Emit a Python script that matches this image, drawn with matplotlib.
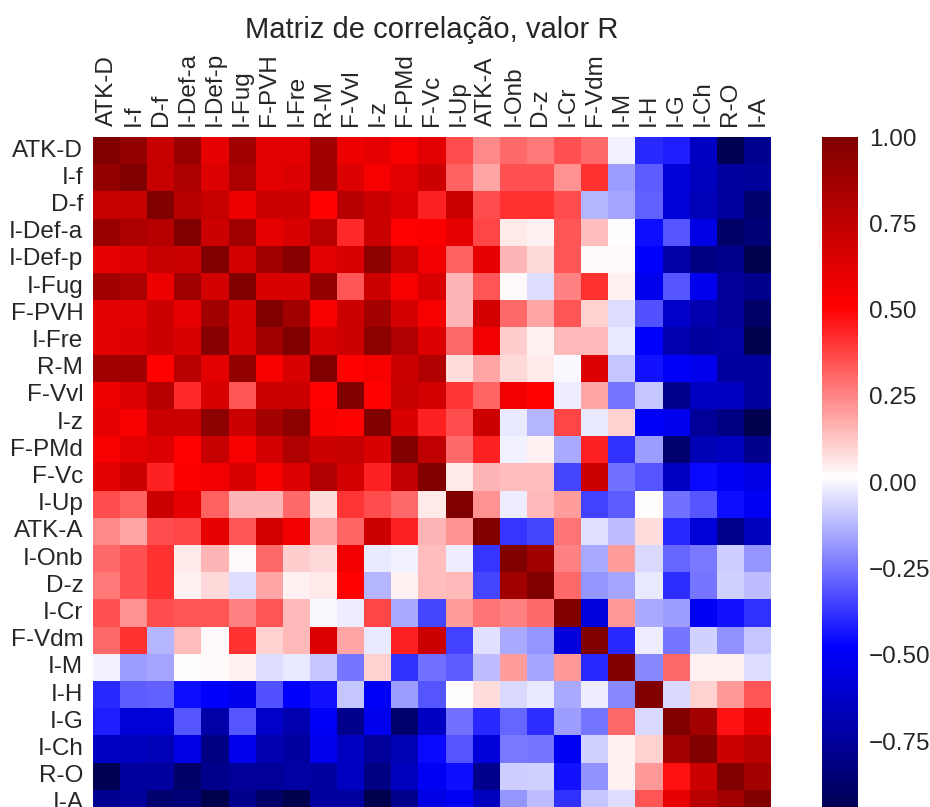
import matplotlib
matplotlib.use("Agg")
import matplotlib.pyplot as plt
import numpy as np
import pandas as pd
import seaborn as sns

plt.rcParams['font.family'] = ['Liberation Sans', 'DejaVu Sans']
plt.rcParams['text.color'] = '#262626'
plt.rcParams['xtick.color'] = '#262626'
plt.rcParams['ytick.color'] = '#262626'

variaveis = ['ATK-D', 'I-f', 'D-f', 'I-Def-a', 'I-Def-p', 'I-Fug', 'F-PVH', 'I-Fre',
             'R-M', 'F-Vvl', 'I-z', 'F-PMd', 'F-Vc', 'I-Up', 'ATK-A', 'I-Onb', 'D-z',
             'I-Cr', 'F-Vdm', 'I-M', 'I-H', 'I-G', 'I-Ch', 'R-O', 'I-A']

# triangulo superior (da diagonal ate o fim), uma linha por variavel
r_atk_d = [1.0, 0.93, 0.73, 0.90, 0.60, 0.87, 0.62, 0.62, 0.87, 0.58, 0.60, 0.54, 0.62,
           0.36, 0.245, 0.30, 0.27, 0.35, 0.30, -0.01, -0.40, -0.42, -0.64, -0.95, -0.78]
r_i_f = [1.0, 0.73, 0.83, 0.64, 0.83, 0.62, 0.64, 0.87, 0.64, 0.54, 0.62, 0.70,
         0.32, 0.19, 0.35, 0.35, 0.23, 0.41, -0.17, -0.30, -0.58, -0.65, -0.74, -0.75]
r_d_f = [1.0, 0.79, 0.73, 0.58, 0.70, 0.70, 0.50, 0.79, 0.71, 0.64, 0.44,
         0.71, 0.36, 0.41, 0.41, 0.36, -0.13, -0.16, -0.29, -0.58, -0.67, -0.74, -0.87]
r_i_def_a = [1.0, 0.70, 0.87, 0.60, 0.66, 0.78, 0.43, 0.71, 0.50, 0.52,
             0.60, 0.37, 0.06, 0.04, 0.34, 0.14, 0.02, -0.45, -0.31, -0.55, -0.90, -0.85]
r_i_def_p = [1.0, 0.68, 0.87, 0.97, 0.62, 0.66, 0.95, 0.73, 0.56,
             0.32, 0.60, 0.16, 0.09, 0.34, 0.03, 0.03, -0.48, -0.71, -0.82, -0.79, -0.97]
r_i_fug = [1.0, 0.66, 0.66, 0.93, 0.34, 0.70, 0.54, 0.66,
           0.16, 0.34, 0.03, -0.05, 0.26, 0.41, 0.04, -0.53, -0.31, -0.53, -0.76, -0.79]
r_f_pvh = [1.0, 0.87, 0.54, 0.70, 0.86, 0.68, 0.54,
           0.16, 0.68, 0.30, 0.19, 0.34, 0.10, -0.05, -0.32, -0.63, -0.70, -0.76, -0.90]
r_i_fre = [1.0, 0.66, 0.70, 0.95, 0.81, 0.64,
           0.30, 0.56, 0.11, 0.04, 0.15, 0.15, -0.03, -0.48, -0.70, -0.74, -0.73, -0.96]
r_r_m = [1.0, 0.50, 0.54, 0.70, 0.81,
         0.08, 0.19, 0.09, 0.06, 0.00, 0.64, -0.10, -0.44, -0.50, -0.53, -0.74, -0.74]
r_f_vvl = [1.0, 0.50, 0.73, 0.68,
           0.40, 0.31, 0.56, 0.50, -0.02, 0.19, -0.25, -0.10, -0.79, -0.64, -0.64, -0.74]
r_i_z = [1.0, 0.66, 0.44,
         0.36, 0.70, -0.03, -0.13, 0.37, -0.03, 0.10, -0.50, -0.52, -0.76, -0.82, -0.96]
r_f_pmd = [1.0, 0.75,
           0.30, 0.44, -0.01, 0.04, -0.15, 0.44, -0.38, -0.17, -0.87, -0.68, -0.65, -0.79]
r_f_vc = [1.0,
          0.06, 0.16, 0.14, 0.14, -0.34, 0.70, -0.26, -0.31, -0.64, -0.46, -0.51, -0.55]
r_i_up = [1.0, 0.23, -0.02, 0.15, 0.20, -0.35, -0.30, 0.02, -0.26, -0.31, -0.45, -0.51]
r_atk_a = [1.0, -0.37, -0.34, 0.28, -0.04, -0.11, 0.08, -0.40, -0.58, -0.79, -0.65]
r_i_onb = [1.0, 0.87, 0.26, -0.15, 0.20, -0.06, -0.28, -0.24, -0.08, -0.19]
r_d_z = [1.0, 0.30, -0.19, -0.16, -0.03, -0.39, -0.25, -0.07, -0.11]
r_i_cr = [1.0, -0.57, 0.21, -0.15, -0.17, -0.51, -0.44, -0.38]
r_f_vdm = [1.0, -0.40, -0.02, -0.25, -0.07, -0.20, -0.10]
r_i_m = [1.0, -0.21, 0.30, 0.04, 0.04, -0.05]
r_i_h = [1.0, -0.06, 0.10, 0.21, 0.34]
r_i_g = [1.0, 0.86, 0.47, 0.60]
r_i_ch = [1.0, 0.70, 0.78]
r_r_o = [1.0, 0.86]
r_i_a = [1.0]

linhas = [r_atk_d, r_i_f, r_d_f, r_i_def_a, r_i_def_p, r_i_fug, r_f_pvh, r_i_fre,
          r_r_m, r_f_vvl, r_i_z, r_f_pmd, r_f_vc, r_i_up, r_atk_a, r_i_onb, r_d_z,
          r_i_cr, r_f_vdm, r_i_m, r_i_h, r_i_g, r_i_ch, r_r_o, r_i_a]

n = len(variaveis)
matriz = np.zeros((n, n))
for i, linha in enumerate(linhas):
    matriz[i, i:] = linha
    matriz[i:, i] = linha
corr = pd.DataFrame(matriz, index=variaveis, columns=variaveis)

fig = plt.figure(figsize=(9.3, 8.07), dpi=100)
ax = fig.add_axes([93 / 930, 1 - 817 / 807, 678 / 930, 680 / 807])
cax = fig.add_axes([822 / 930, 1 - 817 / 807, 36 / 930, 680 / 807])

sns.heatmap(corr, cmap='seismic', ax=ax, cbar_ax=cax, xticklabels=True, yticklabels=True)

ax.xaxis.tick_top()
ax.tick_params(axis='y', length=0, labelsize=17.5, pad=7)
ax.tick_params(axis='x', length=0, labelsize=17.5, pad=8)
plt.setp(ax.get_xticklabels(), rotation=90)
plt.setp(ax.get_yticklabels(), rotation=0)
ax.set_title("Matriz de correlação, valor R", fontsize=21, pad=10)

cax.set_yticks([1.0, 0.75, 0.5, 0.25, 0.0, -0.25, -0.5, -0.75])
cax.yaxis.set_major_formatter(matplotlib.ticker.FormatStrFormatter('%.2f'))
cax.set_yticklabels([t.get_text().replace('-', '\u2212') for t in cax.get_yticklabels()])
cax.tick_params(length=0, labelsize=17.5, pad=8)

fig.savefig("out.png", dpi=100)
